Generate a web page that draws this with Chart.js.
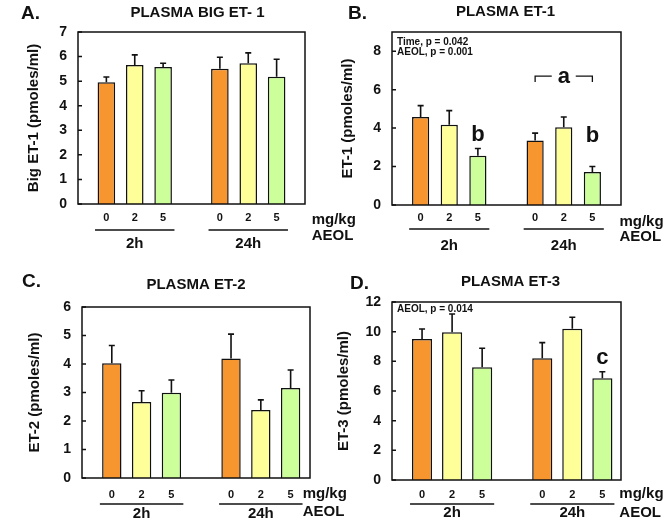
<!DOCTYPE html>
<html>
<head>
<meta charset="utf-8">
<script src="https://cdn.jsdelivr.net/npm/chart.js@4.4.1/dist/chart.umd.min.js"></script>
<style>
  body { margin: 0; background: #fff; }
  #fig { position: relative; width: 670px; height: 528px; overflow: hidden; }
  canvas { position: absolute; }
</style>
</head>
<body>
<div id="fig">
  <canvas id="chartA" width="370" height="264" style="left:0px;top:0px"></canvas>
  <canvas id="chartB" width="335" height="264" style="left:335px;top:0px"></canvas>
  <canvas id="chartC" width="370" height="264" style="left:0px;top:264px"></canvas>
  <canvas id="chartD" width="335" height="264" style="left:335px;top:264px"></canvas>
</div>
<script>
// data
const timeGroups = ['2h', '24h'];
const doses = ['0', '2', '5'];
const doseUnit = 'mg/kg';
const drugName = 'AEOL';

const bigEt1Mean = [4.95, 5.66, 5.58, 5.50, 5.73, 5.18];
const bigEt1Sem  = [0.22, 0.41, 0.15, 0.47, 0.42, 0.71];
const bigEt1Ticks = [0, 1, 2, 3, 4, 5, 6, 7];

const et1Mean = [4.58, 4.18, 2.56, 3.36, 4.04, 1.72];
const et1Sem  = [0.59, 0.73, 0.38, 0.38, 0.54, 0.28];
const et1Ticks = [0, 2, 4, 6, 8];

const et2Mean = [4.03, 2.67, 2.99, 4.19, 2.39, 3.16];
const et2Sem  = [0.62, 0.39, 0.45, 0.86, 0.35, 0.63];
const et2Ticks = [0, 1, 2, 3, 4, 5, 6];

const et3Mean = [9.51, 9.96, 7.60, 8.20, 10.20, 6.86];
const et3Sem  = [0.67, 1.23, 1.28, 1.06, 0.77, 0.44];
const et3Ticks = [0, 2, 4, 6, 8, 10, 12];

const doseColors = ['#F7952F', '#FFFF99', '#CCFF99'];

const FONT = "'Liberation Sans', Arial, sans-serif";
const INK = '#111';

// bar slots: one empty slot before each time group
const slots = [];
timeGroups.forEach((g, gi) => doses.forEach((d, di) => slots.push(1 + gi * (doses.length + 1) + di)));

function decor(p) {
  return {
    id: 'decor',
    afterDatasetsDraw(chart) {
      const { ctx, chartArea: a, scales: { x, y } } = chart;
      const bars = chart.getDatasetMeta(0).data;
      ctx.save();
      ctx.strokeStyle = INK;
      ctx.fillStyle = INK;

      // error bars (upper only)
      ctx.lineWidth = 1.6;
      bars.forEach((bar, i) => {
        const top = y.getPixelForValue(p.mean[i] + p.sem[i]);
        ctx.beginPath();
        ctx.moveTo(bar.x, bar.y);
        ctx.lineTo(bar.x, top);
        ctx.moveTo(bar.x - 3, top);
        ctx.lineTo(bar.x + 3, top);
        ctx.stroke();
      });

      // frame and inward ticks
      ctx.lineWidth = 1.5;
      ctx.strokeRect(a.left, a.top, a.width, a.height);
      ctx.beginPath();
      y.ticks.forEach(t => {
        const py = y.getPixelForValue(t.value);
        ctx.moveTo(a.left, py);
        ctx.lineTo(a.left + 4, py);
      });
      ctx.stroke();

      // dose labels, group lines, group names
      ctx.textBaseline = 'middle';
      ctx.textAlign = 'center';
      ctx.font = `bold 11px ${FONT}`;
      bars.forEach((bar, i) => ctx.fillText(doses[i % doses.length], bar.x, a.bottom + p.doseDy));
      const unit = x.getPixelForValue(1) - x.getPixelForValue(0);
      ctx.font = `bold 15px ${FONT}`;
      timeGroups.forEach((g, gi) => {
        const cx = x.getPixelForValue(slots[gi * doses.length + 1]);
        ctx.beginPath();
        ctx.lineWidth = 1.4;
        ctx.moveTo(cx - 1.4 * unit, a.bottom + p.lineDy);
        ctx.lineTo(cx + 1.4 * unit, a.bottom + p.lineDy);
        ctx.stroke();
        ctx.fillText(g, cx, a.bottom + p.groupDy);
      });
      ctx.textAlign = 'left';
      const ux = bars[bars.length - 1].x + p.unitDx;
      ctx.fillText(doseUnit, ux, a.bottom + p.unitDy);
      ctx.fillText(drugName, ux, a.bottom + p.drugDy);

      // panel letter and title
      ctx.font = `bold 19px ${FONT}`;
      ctx.fillText(p.letter, p.letterX, p.letterY);
      ctx.textAlign = 'center';
      ctx.font = `bold 15px ${FONT}`;
      ctx.fillText(p.title, (a.left + a.right) / 2 + p.titleDx, p.titleY);

      // statistics notes
      ctx.textAlign = 'left';
      ctx.font = `bold 10px ${FONT}`;
      (p.notes || []).forEach((n, k) => ctx.fillText(n, a.left + 5, a.top + p.noteDy + k * 10.5));

      // significance letters
      ctx.textAlign = 'center';
      ctx.font = `bold 22px ${FONT}`;
      (p.marks || []).forEach(m => ctx.fillText(m.text, x.getPixelForValue(m.x), y.getPixelForValue(m.y)));
      if (p.bracket) {
        const b = p.bracket;
        const x0 = x.getPixelForValue(b.from), x1 = x.getPixelForValue(b.to);
        const yb = y.getPixelForValue(b.y), yd = y.getPixelForValue(b.y - b.drop);
        const xm = (x0 + x1) / 2;
        ctx.lineWidth = 1.3;
        ctx.beginPath();
        ctx.moveTo(x0, yd); ctx.lineTo(x0, yb); ctx.lineTo(xm - 12, yb);
        ctx.moveTo(xm + 12, yb); ctx.lineTo(x1, yb); ctx.lineTo(x1, yd);
        ctx.stroke();
        ctx.fillText(b.text, xm, yb + 1);
      }
      ctx.restore();
    }
  };
}

function makePanel(id, p) {
  new Chart(document.getElementById(id), {
    type: 'bar',
    data: {
      datasets: [{
        data: p.mean.map((v, i) => ({ x: slots[i], y: v })),
        backgroundColor: p.mean.map((v, i) => doseColors[i % doseColors.length]),
        borderColor: INK,
        borderWidth: 1.5,
        barPercentage: p.barPct,
        categoryPercentage: 1
      }]
    },
    options: {
      responsive: false,
      animation: false,
      layout: { padding: { top: p.top, right: p.right, left: 0, bottom: 0 } },
      plugins: { legend: { display: false }, tooltip: { enabled: false } },
      scales: {
        x: {
          type: 'linear', min: 0, max: p.xMax, offset: false,
          grid: { display: false, drawTicks: false },
          border: { display: false },
          ticks: { display: false, stepSize: 1 },
          afterBuildTicks: s => { s.ticks = s.ticks.filter(t => Number.isInteger(t.value)); },
          afterFit: s => { s.height = p.bottom; }
        },
        y: {
          min: 0, max: p.yMax,
          grid: { display: false, drawTicks: false },
          border: { display: false },
          afterBuildTicks: s => { s.ticks = p.ticks.map(v => ({ value: v })); },
          ticks: { color: INK, padding: 11, font: { family: FONT, size: 14, weight: 'bold' } },
          title: {
            display: true, text: p.yTitle, color: INK,
            font: { family: FONT, size: 15, weight: 'bold' },
            padding: { top: p.yTitlePad, bottom: 0 }
          },
          afterFit: s => { s.width = p.left; }
        }
      }
    },
    plugins: [decor(p)]
  });
}

makePanel('chartA', {
  mean: bigEt1Mean, sem: bigEt1Sem, ticks: bigEt1Ticks, yMax: 7, xMax: 8,
  left: 78, right: 65, top: 32, bottom: 60, barPct: 0.62,
  yTitle: 'Big ET-1 (pmoles/ml)', yTitlePad: 25,
  letter: 'A.', letterX: 21, letterY: 14, title: 'PLASMA BIG ET- 1', titleDx: 6, titleY: 13,
  doseDy: 14, lineDy: 26, groupDy: 40, unitDx: 35, unitDy: 16, drugDy: 32
});

makePanel('chartB', {
  mean: et1Mean, sem: et1Sem, ticks: et1Ticks, yMax: 9, xMax: 8,
  left: 57, right: 49, top: 32, bottom: 59, barPct: 0.6,
  yTitle: 'ET-1 (pmoles/ml)', yTitlePad: 4,
  letter: 'B.', letterX: 13, letterY: 14, title: 'PLASMA ET-1', titleDx: -1, titleY: 12,
  doseDy: 13, lineDy: 24, groupDy: 41, unitDx: 27, unitDy: 17, drugDy: 32,
  notes: ['Time, p = 0.042', 'AEOL, p = 0.001'], noteDy: 10,
  marks: [{ x: 3, y: 3.65, text: 'b' }, { x: 7, y: 3.6, text: 'b' }],
  bracket: { from: 5, to: 7, y: 6.7, drop: 0.3, text: 'a' }
});

makePanel('chartC', {
  mean: et2Mean, sem: et2Sem, ticks: et2Ticks, yMax: 6, xMax: 7.65,
  left: 82, right: 60, top: 43, bottom: 50, barPct: 0.65,
  yTitle: 'ET-2 (pmoles/ml)', yTitlePad: 26,
  letter: 'C.', letterX: 22, letterY: 18, title: 'PLASMA ET-2', titleDx: 0, titleY: 21,
  doseDy: 17, lineDy: 26, groupDy: 36, unitDx: 12, unitDy: 16, drugDy: 34
});

makePanel('chartD', {
  mean: et3Mean, sem: et3Sem, ticks: et3Ticks, yMax: 12, xMax: 7.62,
  left: 57, right: 49, top: 38, bottom: 48, barPct: 0.67,
  yTitle: 'ET-3 (pmoles/ml)', yTitlePad: 0,
  letter: 'D.', letterX: 15, letterY: 20, title: 'PLASMA ET-3', titleDx: 4, titleY: 18,
  doseDy: 15, lineDy: 24, groupDy: 33, unitDx: 17, unitDy: 14, drugDy: 33,
  notes: ['AEOL, p = 0.014'], noteDy: 7,
  marks: [{ x: 7, y: 8.24, text: 'c' }]
});
</script>
</body>
</html>
